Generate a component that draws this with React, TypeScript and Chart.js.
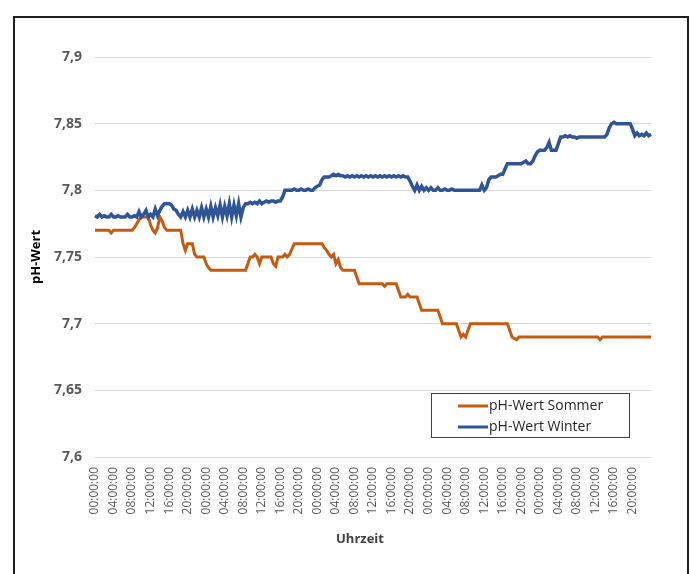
import { useEffect, useRef } from "react";
import { Chart, registerables } from "chart.js";

Chart.register(...registerables);

// pH values sampled every 30 minutes over five days (241 samples)
const SUMMER_VALUES: number[] = [
  7.77, 7.77, 7.77, 7.77, 7.77, 7.77, 7.77, 7.768, 7.77, 7.77, 7.77, 7.77,
  7.77, 7.77, 7.77, 7.77, 7.77, 7.772, 7.775, 7.778, 7.78, 7.78, 7.78, 7.78,
  7.774, 7.77, 7.768, 7.772, 7.78, 7.777, 7.772, 7.77, 7.77, 7.77, 7.77, 7.77,
  7.77, 7.77, 7.76, 7.755, 7.76, 7.76, 7.76, 7.752, 7.75, 7.75, 7.75, 7.75,
  7.745, 7.742, 7.74, 7.74, 7.74, 7.74, 7.74, 7.74, 7.74, 7.74, 7.74, 7.74,
  7.74, 7.74, 7.74, 7.74, 7.74, 7.74, 7.745, 7.75, 7.75, 7.752, 7.75, 7.745,
  7.75, 7.75, 7.75, 7.75, 7.75, 7.745, 7.743, 7.75, 7.75, 7.75, 7.752, 7.75,
  7.752, 7.756, 7.76, 7.76, 7.76, 7.76, 7.76, 7.76, 7.76, 7.76, 7.76, 7.76,
  7.76, 7.76, 7.76, 7.757, 7.755, 7.752, 7.75, 7.752, 7.745, 7.748, 7.742, 7.74,
  7.74, 7.74, 7.74, 7.74, 7.74, 7.735, 7.73, 7.73, 7.73, 7.73, 7.73, 7.73,
  7.73, 7.73, 7.73, 7.73, 7.73, 7.728, 7.73, 7.73, 7.73, 7.73, 7.73, 7.725,
  7.72, 7.72, 7.72, 7.722, 7.72, 7.72, 7.72, 7.72, 7.715, 7.71, 7.71, 7.71,
  7.71, 7.71, 7.71, 7.71, 7.71, 7.705, 7.7, 7.7, 7.7, 7.7, 7.7, 7.7,
  7.7, 7.695, 7.69, 7.692, 7.69, 7.695, 7.7, 7.7, 7.7, 7.7, 7.7, 7.7,
  7.7, 7.7, 7.7, 7.7, 7.7, 7.7, 7.7, 7.7, 7.7, 7.7, 7.7, 7.695,
  7.69, 7.689, 7.688, 7.69, 7.69, 7.69, 7.69, 7.69, 7.69, 7.69, 7.69, 7.69,
  7.69, 7.69, 7.69, 7.69, 7.69, 7.69, 7.69, 7.69, 7.69, 7.69, 7.69, 7.69,
  7.69, 7.69, 7.69, 7.69, 7.69, 7.69, 7.69, 7.69, 7.69, 7.69, 7.69, 7.69,
  7.69, 7.69, 7.688, 7.69, 7.69, 7.69, 7.69, 7.69, 7.69, 7.69, 7.69, 7.69,
  7.69, 7.69, 7.69, 7.69, 7.69, 7.69, 7.69, 7.69, 7.69, 7.69, 7.69, 7.69,
  7.69,
];

const WINTER_VALUES: number[] = [
  7.781, 7.78, 7.782, 7.78, 7.781, 7.78, 7.78, 7.782, 7.78, 7.78, 7.781, 7.78,
  7.78, 7.78, 7.782, 7.78, 7.78, 7.781, 7.78, 7.784, 7.78, 7.782, 7.785, 7.78,
  7.782, 7.78, 7.786, 7.781, 7.785, 7.788, 7.79, 7.79, 7.79, 7.789, 7.786, 7.785,
  7.782, 7.78, 7.784, 7.78, 7.785, 7.78, 7.786, 7.78, 7.785, 7.78, 7.787, 7.78,
  7.786, 7.78, 7.788, 7.78, 7.787, 7.781, 7.789, 7.78, 7.788, 7.781, 7.79, 7.78,
  7.789, 7.781, 7.79, 7.78, 7.787, 7.79, 7.79, 7.791, 7.79, 7.791, 7.79, 7.792,
  7.79, 7.791, 7.792, 7.791, 7.792, 7.792, 7.791, 7.792, 7.792, 7.795, 7.8, 7.8,
  7.8, 7.8, 7.801, 7.8, 7.8, 7.801, 7.8, 7.8, 7.801, 7.8, 7.8, 7.802,
  7.803, 7.804, 7.808, 7.81, 7.81, 7.81, 7.811, 7.812, 7.811, 7.812, 7.811, 7.811,
  7.81, 7.811, 7.81, 7.811, 7.81, 7.811, 7.81, 7.811, 7.81, 7.811, 7.81, 7.811,
  7.81, 7.811, 7.81, 7.811, 7.81, 7.811, 7.81, 7.811, 7.81, 7.811, 7.81, 7.811,
  7.81, 7.811, 7.81, 7.81, 7.807, 7.803, 7.8, 7.804, 7.8, 7.803, 7.8, 7.802,
  7.8, 7.802, 7.8, 7.8, 7.802, 7.8, 7.8, 7.801, 7.8, 7.8, 7.801, 7.8,
  7.8, 7.8, 7.8, 7.8, 7.8, 7.8, 7.8, 7.8, 7.8, 7.8, 7.8, 7.804,
  7.8, 7.802, 7.808, 7.81, 7.81, 7.81, 7.811, 7.812, 7.812, 7.816, 7.82, 7.82,
  7.82, 7.82, 7.82, 7.82, 7.82, 7.821, 7.822, 7.82, 7.82, 7.822, 7.826, 7.829,
  7.83, 7.83, 7.83, 7.832, 7.836, 7.83, 7.83, 7.83, 7.835, 7.84, 7.84, 7.841,
  7.84, 7.841, 7.84, 7.84, 7.839, 7.84, 7.84, 7.84, 7.84, 7.84, 7.84, 7.84,
  7.84, 7.84, 7.84, 7.84, 7.84, 7.842, 7.847, 7.85, 7.851, 7.85, 7.85, 7.85,
  7.85, 7.85, 7.85, 7.85, 7.846, 7.841, 7.843, 7.841, 7.842, 7.841, 7.843, 7.841,
  7.842,
];

const SERIES_NAMES = ["pH-Wert Sommer", "pH-Wert Winter"];
const SERIES_COLORS = ["#C55A11", "#2F5597"];
const SAMPLE_MINUTES = 30;
const TICK_EVERY = 8; // a label every 4 hours
const X_TITLE = "Uhrzeit";
const Y_TITLE = "pH-Wert";
const Y_MIN = 7.6;
const Y_MAX = 7.9;
const Y_STEP = 0.05;

const pad2 = (n: number) => (n < 10 ? "0" + n : "" + n);
const CATEGORIES: string[] = SUMMER_VALUES.map((_, i) => {
  const m = i * SAMPLE_MINUTES;
  return `${pad2(Math.floor(m / 60) % 24)}:${pad2(m % 60)}:00`;
});

const FONT = '"Open Sans", "DejaVu Sans", sans-serif';

const overlayPlugin = {
  id: "overlay",
  afterDraw(chart: any) {
    const ctx = chart.ctx as CanvasRenderingContext2D;
    ctx.save();
    // x axis title
    ctx.font = `bold 13px ${FONT}`;
    ctx.fillStyle = "#404040";
    ctx.textAlign = "center";
    ctx.textBaseline = "middle";
    ctx.fillText(X_TITLE, 360, 539);

    // legend box
    const bx = 431.5, by = 393.5, bw = 198, bh = 44;
    ctx.fillStyle = "#ffffff";
    ctx.fillRect(bx, by, bw, bh);
    ctx.strokeStyle = "#404040";
    ctx.lineWidth = 1;
    ctx.strokeRect(bx, by, bw, bh);
    ctx.font = `14px ${FONT}`;
    ctx.textAlign = "left";
    chart.data.datasets.forEach((ds: any, i: number) => {
      const yy = by + 12.5 + i * 21;
      ctx.strokeStyle = ds.borderColor;
      ctx.lineWidth = 3;
      ctx.beginPath();
      ctx.moveTo(458, yy);
      ctx.lineTo(488, yy);
      ctx.stroke();
      ctx.fillStyle = "#262626";
      ctx.fillText(ds.label, 489, yy);
    });
    ctx.restore();
  },
};

export default function App() {
  const ref = useRef<HTMLCanvasElement | null>(null);

  useEffect(() => {
    if (!ref.current) return;
    const chart = new Chart(ref.current, {
      type: "line",
      data: {
        labels: CATEGORIES,
        datasets: [
          {
            label: SERIES_NAMES[0],
            data: SUMMER_VALUES,
            borderColor: SERIES_COLORS[0],
            backgroundColor: SERIES_COLORS[0],
            borderWidth: 3,
            pointRadius: 0,
            tension: 0,
            order: 1,
          },
          {
            label: SERIES_NAMES[1],
            data: WINTER_VALUES,
            borderColor: SERIES_COLORS[1],
            backgroundColor: SERIES_COLORS[1],
            borderWidth: 3.5,
            pointRadius: 0,
            tension: 0,
            order: 0,
          },
        ],
      },
      options: {
        animation: false,
        responsive: false,
        maintainAspectRatio: false,
        layout: { padding: { left: 20, top: 57, right: 43, bottom: 0 } },
        plugins: {
          legend: { display: false },
          tooltip: { enabled: false },
        },
        scales: {
          x: {
            type: "category",
            offset: false,
            grid: { display: false, drawTicks: false },
            border: { display: false },
            afterFit: (s: any) => {
              s.height = 117;
            },
            ticks: {
              autoSkip: false,
              minRotation: 90,
              maxRotation: 90,
              padding: 10,
              color: "#595959",
              font: { family: FONT, size: 12 },
              callback: function (this: any, value: any, index: number) {
                if (index % TICK_EVERY !== 0 || index >= CATEGORIES.length - 1) return null;
                return CATEGORIES[index];
              },
            },
          },
          y: {
            min: Y_MIN,
            max: Y_MAX,
            afterFit: (s: any) => {
              s.width = 75;
            },
            grid: { color: "#d9d9d9", lineWidth: 1, drawTicks: false },
            border: { display: false },
            ticks: {
              stepSize: Y_STEP,
              padding: 13,
              color: "#595959",
              font: { family: FONT, size: 14, weight: "bold" },
              callback: (v: any) =>
                String(parseFloat(Number(v).toFixed(2))).replace(".", ","),
            },
            title: {
              display: true,
              text: Y_TITLE,
              color: "#000000",
              font: { family: FONT, size: 13, weight: "bold" },
              padding: { top: 8, bottom: 0 },
            },
          },
        },
      },
      plugins: [overlayPlugin],
    });
    return () => chart.destroy();
  }, []);

  return (
    <div
      style={{
        position: "fixed",
        left: 0,
        top: 0,
        width: 694,
        height: 574,
        overflow: "hidden",
        background: "#ffffff",
      }}
    >
      <canvas ref={ref} width={694} height={574} style={{ display: "block" }} />
      <div
        style={{
          position: "absolute",
          left: 13,
          top: 16,
          width: 676,
          height: 600,
          boxSizing: "border-box",
          border: "2px solid #1f1f1f",
          pointerEvents: "none",
        }}
      />
    </div>
  );
}
